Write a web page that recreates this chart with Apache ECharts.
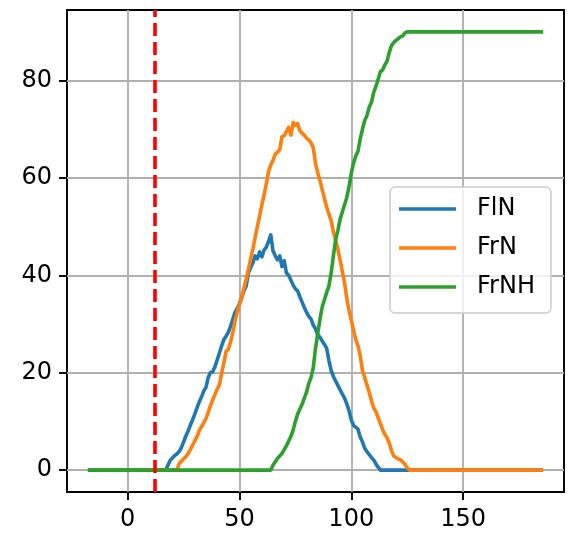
<!DOCTYPE html>
<html>
<head>
<meta charset="utf-8">
<script src="https://cdn.jsdelivr.net/npm/echarts@6/dist/echarts.min.js"></script>
<style>html,body{margin:0;padding:0;background:#fff;}#c{width:581px;height:538px;}</style>
</head>
<body>
<div id="c"></div>
<script>
const X_MIN = -17, X_MAX = 185;
const xTicks = [0, 50, 100, 150];
const yTicks = [0, 20, 40, 60, 80];
const vLineX = 12;
const seriesNames = ['FlN', 'FrN', 'FrNH'];
const flnStart = 17;
const flnVals = [0,1,2,2.5,3,3.3,3.8,4.6,5.8,7,
 8,9.2,10.3,11.5,12.8,14,15,16.2,17,19,
 20,20.2,21.2,22.6,24,25.5,26.8,27.5,28.3,29.5,
 31,32.4,33.2,34.2,35.5,36.8,37.8,40.5,41.6,42.6,
 44,43.4,44.8,43.8,45.2,45.8,47,48.3,45,44,
 43.2,44,41.8,43,40.5,40,39,38,37.2,36.8,
 35.6,34.5,33.4,32.4,31.6,31,29.8,29,27.8,27.3,
 26.5,25.8,25,22.5,20.5,19.2,18.3,17.4,16.5,15.6,
 14.8,13.6,12.2,10.3,9.2,8.8,8.4,6.8,5.8,4.5,
 3.8,3.2,2.6,2.1,1.3,0.6,0];
const frnStart = 22;
const frnVals = [0,1.3,1.8,2.3,2.7,3.4,4.2,5.1,6,6.9,
 8.1,8.9,9.7,10.6,11.8,13.2,14.4,15.5,16.6,17.5,
 19.8,22,24.4,24.8,26.3,28.2,30.6,32.5,34,35.4,
 37.4,39.2,41.2,43.5,45.4,47.8,50,52.2,54.5,56.5,
 58.8,61.3,62.7,63.6,64.9,65.3,65.8,68.5,68.7,69.5,
 70.4,68.8,71.4,70.8,71.2,69.7,69.2,68.8,68.2,67.8,
 67.2,66.2,63,61,59.5,57.6,55.8,54,52.6,51.2,
 49,47.2,45.4,43.2,40.8,38.5,35.2,32.8,30.8,28.8,
 26.8,25.5,23.5,20.5,19,17.5,16,14.3,12.8,12,
 10.8,9.6,8.3,7.4,6.6,5.5,4,2.9,2.6,2.3,
 2.1,1.7,1.2,0.5,0];
const frnhStart = 64;
const frnhVals = [0,1,1.7,2.4,2.9,3.4,4.2,5,6,6.9,
 8.2,10,11.5,12.5,13.5,14.8,16,17.8,19,21,
 25,28,31,33.5,35,36.5,37.8,40.5,44,47.3,
 49.2,51.5,53,54.5,56,58.2,61,63,64.5,65.5,
 68,70,71.8,72.8,74.5,75.5,77.5,78.8,80.2,81.8,
 82.2,83.2,84,85.8,87.2,87.8,88.3,88.6,89,89.2,
 89.8,90,90];
const colors = ['#1f77b4', '#ff7f0e', '#2ca02c'];

function build(start, vals) {
  const out = [];
  for (let x = X_MIN; x <= X_MAX; x++) {
    const i = x - start;
    const y = i < 0 ? vals[0] : (i >= vals.length ? vals[vals.length - 1] : vals[i]);
    out.push([x, y]);
  }
  return out;
}

const FONT = 'DejaVu Sans';
const chart = echarts.init(document.getElementById('c'), null, {renderer: 'canvas'});
const mk = (name, start, vals, color) => ({
  name, type: 'line', data: build(start, vals), showSymbol: false, symbol: 'none',
  lineStyle: {width: 3.6, color, cap: 'square', join: 'round'}, itemStyle: {color}, animation: false, z: 3
});
chart.setOption({
  animation: false,
  grid: {left: 67, right: 17, top: 10, bottom: 46, show: true, borderColor: '#000', borderWidth: 1.9, backgroundColor: 'transparent'},
  xAxis: {
    type: 'value', min: -27.15, max: 195.15,
    axisLine: {show: false, onZero: false},
    axisTick: {show: true, inside: false, length: 8, lineStyle: {color: '#000', width: 1.9}, customValues: xTicks},
    axisLabel: {customValues: xTicks, color: '#000', fontFamily: FONT, fontSize: 24, margin: 16},
    splitLine: {show: true, lineStyle: {color: '#b0b0b0', width: 1.9}}
  },
  yAxis: {
    type: 'value', min: -4.5, max: 94.5,
    axisLine: {show: false, onZero: false},
    axisTick: {show: true, inside: false, length: 8, lineStyle: {color: '#000', width: 1.9}, customValues: yTicks},
    axisLabel: {customValues: yTicks, color: '#000', fontFamily: FONT, fontSize: 24, margin: 15},
    splitLine: {show: true, lineStyle: {color: '#b0b0b0', width: 1.9}}
  },
  legend: {
    orient: 'vertical', left: 390, top: 187,
    data: seriesNames.map(n => ({name: n, icon: 'rect'})),
    itemWidth: 57, itemHeight: 3.6, itemGap: 15,
    padding: [10, 16, 14, 9],
    backgroundColor: 'rgba(255,255,255,0.8)', borderColor: '#cccccc', borderWidth: 1.5, borderRadius: 5,
    textStyle: {fontFamily: FONT, fontSize: 24, color: '#000', padding: [0, 0, 0, 16]}
  },
  series: [
    mk(seriesNames[0], flnStart, flnVals, colors[0]),
    mk(seriesNames[1], frnStart, frnVals, colors[1]),
    mk(seriesNames[2], frnhStart, frnhVals, colors[2]),
    {
      type: 'line', data: [], silent: true, z: 5,
      markLine: {
        silent: true, symbol: ['none', 'none'], label: {show: false},
        lineStyle: {color: '#ff0000', type: [13, 6], width: 3.6},
        data: [{xAxis: vLineX}], animation: false
      }
    }
  ]
});
</script>
</body>
</html>
